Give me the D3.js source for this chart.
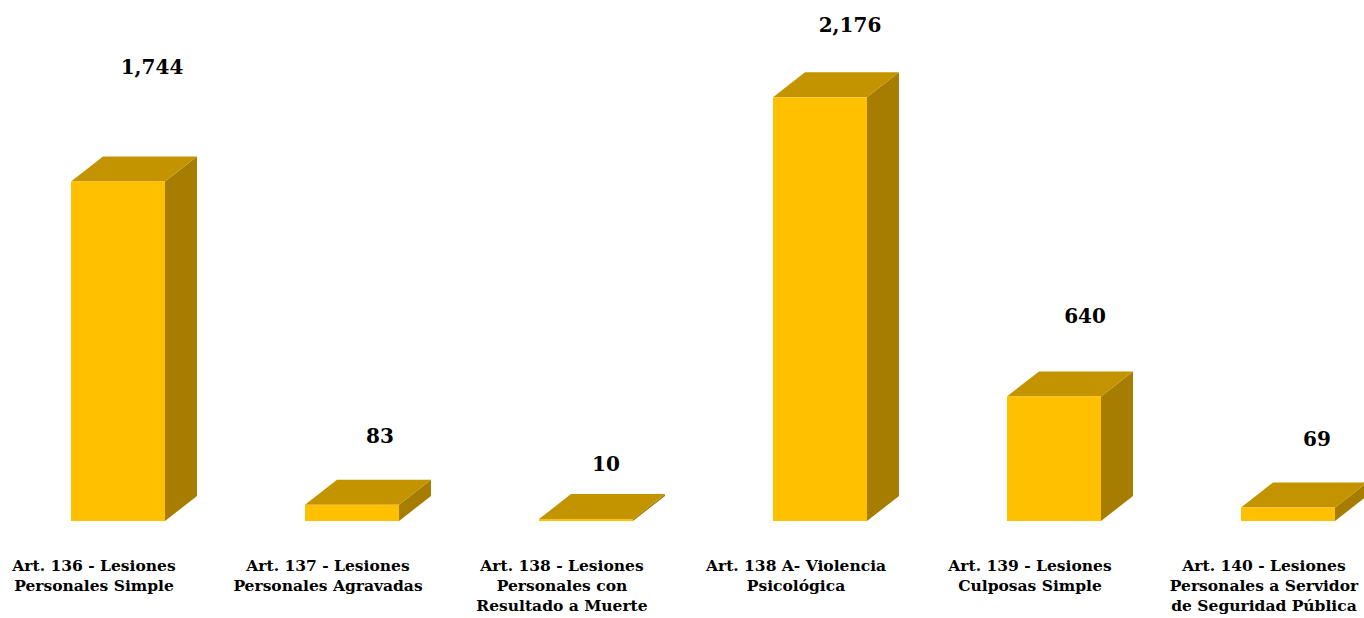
<!DOCTYPE html>
<html>
<head>
<meta charset="utf-8">
<script src="https://cdn.jsdelivr.net/npm/d3@7"></script>
<style>
  body { margin: 0; background: #fff; }
  svg { display: block; }
</style>
</head>
<body>
<svg id="chart" width="1364" height="618"></svg>
<script>
// chart data
const categories = [
  ['Art. 136 - Lesiones', 'Personales Simple'],
  ['Art. 137 - Lesiones', 'Personales Agravadas'],
  ['Art. 138 - Lesiones', 'Personales con', 'Resultado a Muerte'],
  ['Art. 138 A- Violencia', 'Psicológica'],
  ['Art. 139 - Lesiones', 'Culposas Simple'],
  ['Art. 140 - Lesiones', 'Personales a Servidor', 'de Seguridad Pública']
];
const values = [1744, 83, 10, 2176, 640, 69];

// label placement nudges (layout only)
const labelLift = [82, 37, 23, 40, 48, 37];
const labelShift = [34, 28, 20, 30, 31, 29];

const svg = d3.select('#chart');
const baseY = 521;
const frontW = 94;
const depthX = 32, depthY = 25;

const x = d3.scalePoint()
  .domain(d3.range(categories.length))
  .range([118, 1288]);

const y = d3.scaleLinear()
  .domain([0, 2500])
  .range([baseY, baseY - 2500 * 0.1947]);

const fmt = d3.format(',');

const bars = svg.append('g')
  .selectAll('g')
  .data(values)
  .join('g');

// side face
bars.append('path')
  .attr('fill', '#A67D00')
  .attr('d', (d, i) => {
    const r = x(i) + frontW / 2, t = y(d);
    return `M${r},${baseY}L${r + depthX},${baseY - depthY}L${r + depthX},${t - depthY}L${r},${t}Z`;
  });

// top face
bars.append('path')
  .attr('fill', '#C49400')
  .attr('d', (d, i) => {
    const l = x(i) - frontW / 2, r = x(i) + frontW / 2, t = y(d);
    return `M${l},${t}L${l + depthX},${t - depthY}L${r + depthX},${t - depthY}L${r},${t}Z`;
  });

// front face
bars.append('rect')
  .attr('fill', '#FFC000')
  .attr('x', (d, i) => x(i) - frontW / 2)
  .attr('y', d => y(d))
  .attr('width', frontW)
  .attr('height', d => baseY - y(d));

// value labels
svg.append('g')
  .selectAll('text')
  .data(values)
  .join('text')
  .attr('x', (d, i) => x(i) + labelShift[i])
  .attr('y', (d, i) => y(d) - depthY - labelLift[i])
  .attr('text-anchor', 'middle')
  .attr('font-family', '"DejaVu Serif", serif')
  .attr('font-weight', 'bold')
  .attr('font-size', 20)
  .attr('fill', '#000')
  .text(d => fmt(d));

// category labels
const catText = svg.append('g')
  .selectAll('text')
  .data(categories)
  .join('text')
  .attr('x', (d, i) => x(i) - 24)
  .attr('y', 571)
  .attr('text-anchor', 'middle')
  .attr('font-family', '"DejaVu Serif", serif')
  .attr('font-weight', 'bold')
  .attr('font-size', 15.5)
  .attr('fill', '#000');

catText.selectAll('tspan')
  .data((d, i) => d.map(line => ({ line, i })))
  .join('tspan')
  .attr('x', d => x(d.i) - 24)
  .attr('dy', (d, j) => j === 0 ? 0 : 20)
  .text(d => d.line);
</script>
</body>
</html>
